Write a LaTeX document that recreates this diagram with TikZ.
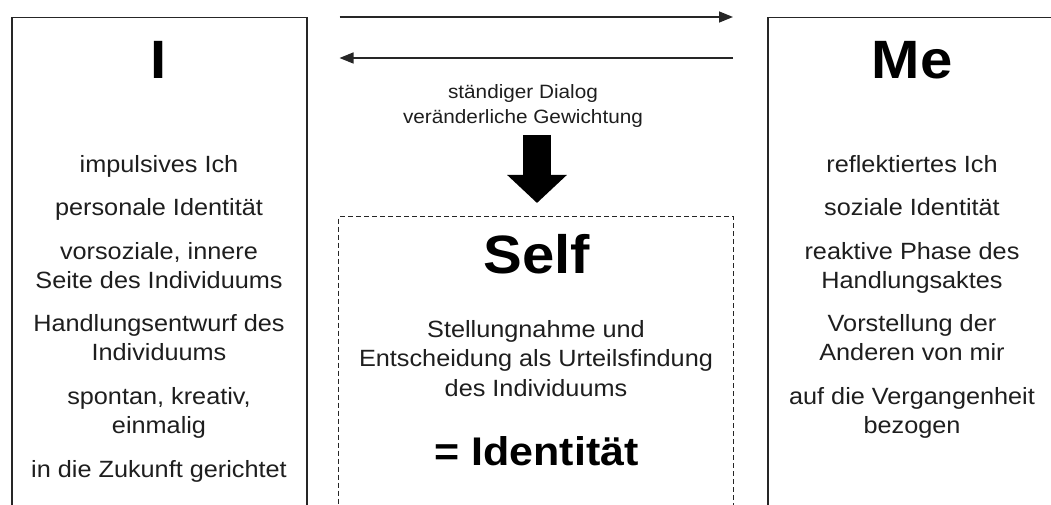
\documentclass[tikz,border=0pt]{standalone}
\usepackage{fontspec}
\setmainfont[FakeStretch=1.075]{Liberation Sans}
\usetikzlibrary{arrows.meta,calc}

\definecolor{ink}{HTML}{1E1E1E}
\definecolor{rule}{HTML}{262626}

\tikzset{
  frame/.style={draw=rule, line width=1.5bp, anchor=north west, inner sep=0},
  selfframe/.style={draw=rule, line width=1.1bp, dash pattern=on 5bp off 3bp, anchor=north west, inner sep=0},
  title/.style={font=\fontsize{54bp}{60bp}\selectfont\bfseries, text=black, anchor=base, inner sep=0},
  body/.style={font=\fontsize{23.5bp}{29bp}\selectfont, text=ink, anchor=base, inner sep=0},
  small/.style={font=\fontsize{19.3bp}{24bp}\selectfont, text=ink, anchor=base, inner sep=0},
  result/.style={font=\fontsize{40bp}{46bp}\selectfont\bfseries, text=black, anchor=base, inner sep=0},
  thinarrow/.style={draw=rule, line width=1.5bp, -{Triangle[length=14bp,width=11bp]}},
  bigarrow/.style={draw=black, line width=28bp, -{Triangle[length=28bp,width=58bp]}}
}

\begin{document}
\begin{tikzpicture}[x=1bp,y=-1bp]
  \useasboundingbox (0,0) rectangle (1051,505);
  \clip (0,0) rectangle (1051,505);

  % the three frames (they run on past the lower edge)
  \node[frame, minimum width=295bp, minimum height=520bp] (Ibox) at (11,17) {};
  \node[frame, minimum width=295bp, minimum height=520bp] (Mebox) at (767,17) {};
  \node[selfframe, minimum width=395bp, minimum height=320bp] (Selfbox) at (338,216) {};

  % left column: I
  \node[title] (Ititle) at (159,79) {I};
  \node[body] (i1) at (159,172.5) {impulsives Ich};
  \node[body] (i2) at (159,216) {personale Identität};
  \node[body] (i3) at (159,259.5) {vorsoziale, innere};
  \node[body] (i4) at (159,288.5) {Seite des Individuums};
  \node[body] (i5) at (159,332) {Handlungsentwurf des};
  \node[body] (i6) at (159,361) {Individuums};
  \node[body] (i7) at (159,404.5) {spontan, kreativ,};
  \node[body] (i8) at (159,433.5) {einmalig};
  \node[body] (i9) at (159,477) {in die Zukunft gerichtet};

  % right column: Me
  \node[title] (Metitle) at (912,79) {Me};
  \node[body] (m1) at (912,172.5) {reflektiertes Ich};
  \node[body] (m2) at (912,216) {soziale Identität};
  \node[body] (m3) at (912,259.5) {reaktive Phase des};
  \node[body] (m4) at (912,288.5) {Handlungsaktes};
  \node[body] (m5) at (912,332) {Vorstellung der};
  \node[body] (m6) at (912,361) {Anderen von mir};
  \node[body] (m7) at (912,404.5) {auf die Vergangenheit};
  \node[body] (m8) at (912,433.5) {bezogen};

  % middle: dialogue and Self
  \node[small] (dlg1) at (523,99) {ständiger Dialog};
  \node[small] (dlg2) at (523,124) {veränderliche Gewichtung};

  \node[title] (Selftitle) at (537,274) {Self};
  \node[body] (s1) at (536,338) {Stellungnahme und};
  \node[body] (s2) at (536,367) {Entscheidung als Urteilsfindung};
  \node[body] (s3) at (536,396) {des Individuums};
  \node[result] (s4) at (536.5,465) {= Identität};

  % connectors
  \draw[thinarrow, shorten <=32bp, shorten >=34bp] (Ibox.north east) -- (Mebox.north west);
  \draw[thinarrow, shorten <=34bp, shorten >=32bp]
    ($(Mebox.north west)+(0,41)$) -- ($(Ibox.north east)+(0,41)$);
  \draw[bigarrow] (537,135 -| Selftitle.base) -- ([yshift=13bp]Selfbox.north -| Selftitle.base);
\end{tikzpicture}
\end{document}
